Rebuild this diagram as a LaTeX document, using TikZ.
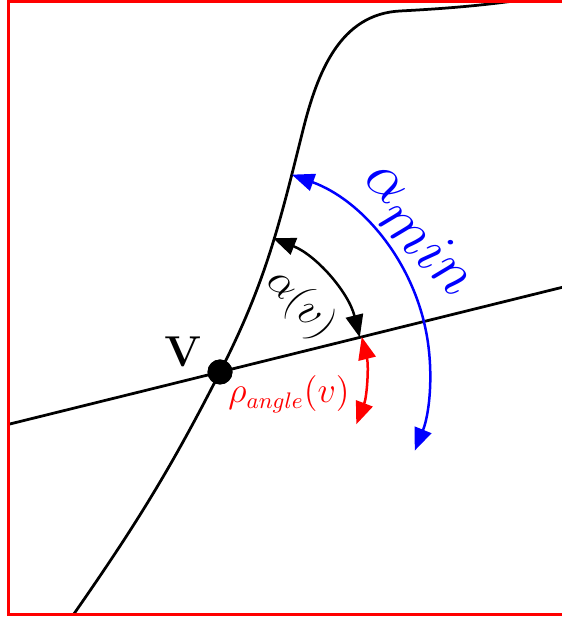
\documentclass[tikz,border=0pt]{standalone}
\usetikzlibrary{arrows.meta}
\begin{document}
\begin{tikzpicture}[x=0.4pt,y=0.4pt,
    anglearc/.style={line width=1pt, {Triangle[length=9pt,width=7pt]}-{Triangle[length=9pt,width=7pt]}}]
    \useasboundingbox (0,0) rectangle (561,619);
    % Vertex
    \node[circle, fill=black, inner sep=0pt, minimum size=10pt] (v) at (220,247) {};
    \begin{scope}
        \clip (8,4) rectangle (600,617);
        % Curve through v
        \draw[line width=1.1pt] (62,-12) to[out=55,in=243] (v.center)
            to[out=63,in=256] (303,489)
            to[out=76,in=183] (400,608)
            to[out=3,in=189] (575,627);
        % Straight line through v
        \draw[line width=1.1pt] (v.center) ++(193.9:260) -- ++(13.9:700);
    \end{scope}
    % Frame
    \draw[red, line width=1.2pt] (8,4) rectangle (600,617);
    \node[circle, fill=black, inner sep=0pt, minimum size=10pt] at (v) {};
    % Angles
    \draw[anglearc, black] (v.center) ++(68.4:144) arc[start angle=68.4, end angle=13.9, radius=144];
    \draw[anglearc, red] (v.center) ++(13.9:146) arc[start angle=13.9, end angle=-21, radius=146];
    \draw[anglearc, blue] (v.center) ++(70:210) arc[start angle=70, end angle=-22, radius=210];
    % Labels
    \node (vlabel) at (183,267) {\fontsize{17}{19}\selectfont$\mathbf{V}$};
    \node[rotate=-47] (alphav) at (301,315) {\fontsize{19}{22}\selectfont$\alpha(v)$};
    \node[red] (rho) at (289,225) {\fontsize{13.5}{16}\selectfont$\rho_{angle}(v)$};
    \node[blue, rotate=-45] (alphamin) at (418,388) {\fontsize{42}{46}\selectfont$\alpha_{min}$};
\end{tikzpicture}
\end{document}
